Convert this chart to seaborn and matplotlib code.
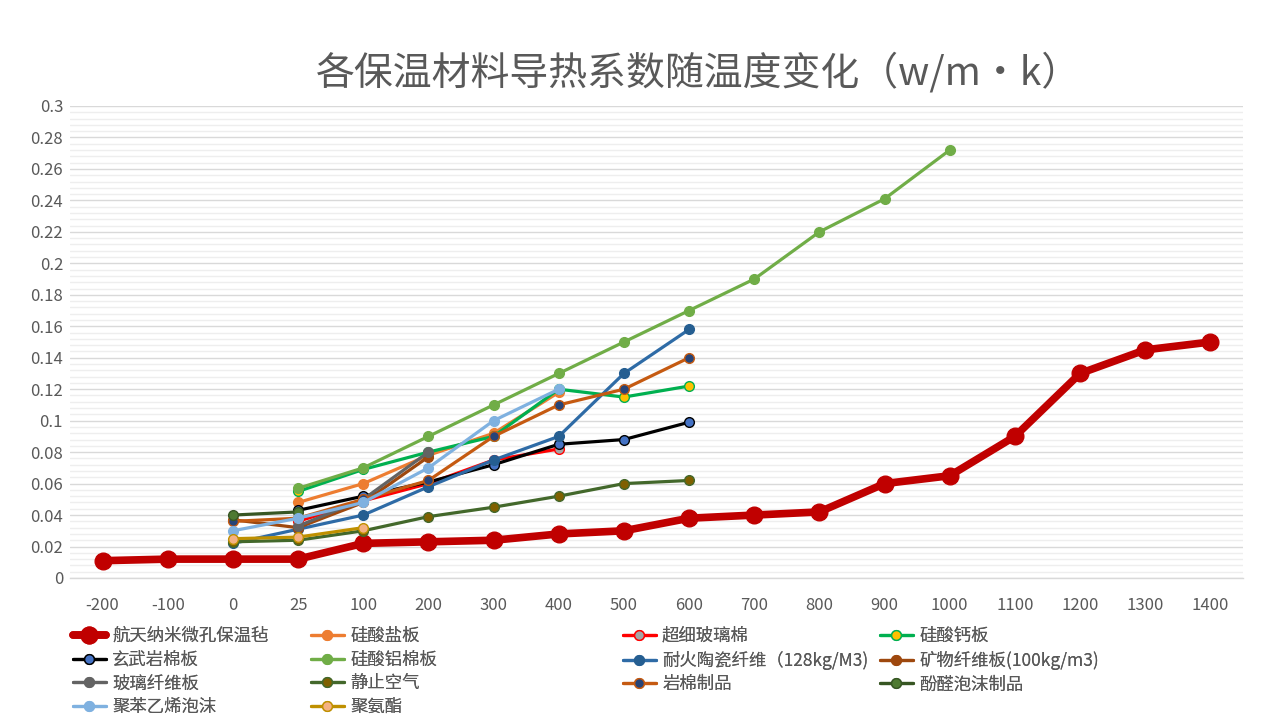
import matplotlib
matplotlib.use("Agg")
import matplotlib.pyplot as plt
from matplotlib.ticker import MultipleLocator
import seaborn as sns
import pandas as pd

# ---------------- data ----------------
temps = ["-200", "-100", "0", "25", "100", "200", "300", "400", "500", "600",
         "700", "800", "900", "1000", "1100", "1200", "1300", "1400"]
N = None
hangtian   = [0.011, 0.012, 0.012, 0.012, 0.022, 0.023, 0.024, 0.028, 0.030, 0.038,
              0.040, 0.042, 0.060, 0.065, 0.090, 0.130, 0.145, 0.150]
guisuanyan = [N, N, N, 0.048, 0.060, 0.078, 0.092, 0.118] + [N] * 10
chaoxi     = [N, N, N, 0.036, 0.049, 0.060, 0.075, 0.082] + [N] * 10
guisuangai = [N, N, N, 0.055, 0.069, 0.080, 0.090, 0.120, 0.115, 0.122] + [N] * 8
xuanwu     = [N, N, N, 0.043, 0.052, 0.061, 0.072, 0.085, 0.088, 0.099] + [N] * 8
guisuanlv  = [N, N, N, 0.057, 0.070, 0.090, 0.110, 0.130, 0.150, 0.170,
              0.190, 0.220, 0.241, 0.272] + [N] * 4
naihuo     = [N, N, 0.022, 0.031, 0.040, 0.058, 0.075, 0.090, 0.130, 0.158] + [N] * 8
kuangwu    = [N, N, 0.037, 0.032, 0.048, 0.077] + [N] * 12
boli       = [N, N, N, 0.033, 0.050, 0.080] + [N] * 12
jingzhi    = [N, N, 0.023, 0.024, 0.030, 0.039, 0.045, 0.052, 0.060, 0.062] + [N] * 8
yanmian    = [N, N, 0.036, 0.038, 0.050, 0.062, 0.090, 0.110, 0.120, 0.140] + [N] * 8
fenquan    = [N, N, 0.040, 0.042] + [N] * 14
jubenyixi  = [N, N, 0.030, 0.038, 0.048, 0.070, 0.100, 0.120] + [N] * 10
juanzhi    = [N, N, 0.025, 0.026, 0.032] + [N] * 13

names = ["航天纳米微孔保温毡", "硅酸盐板", "超细玻璃棉", "硅酸钙板",
         "玄武岩棉板", "硅酸铝棉板", "耐火陶瓷纤维（128kg/M3)", "矿物纤维板(100kg/m3)",
         "玻璃纤维板", "静止空气", "岩棉制品", "酚醛泡沫制品",
         "聚苯乙烯泡沫", "聚氨酯"]
values = [hangtian, guisuanyan, chaoxi, guisuangai, xuanwu, guisuanlv, naihuo,
          kuangwu, boli, jingzhi, yanmian, fenquan, jubenyixi, juanzhi]

# styles: (line color, marker face, marker edge, linewidth, markersize)
styles = [
    ("#C00000", "#C00000", "#C00000", 5.5, 12),
    ("#ED7D31", "#ED7D31", "#ED7D31", 2.3, 7),
    ("#FF0000", "#A5A5A5", "#FF0000", 2.3, 7),
    ("#00B050", "#FFC000", "#00B050", 2.3, 7),
    ("#000000", "#4472C4", "#000000", 2.3, 7),
    ("#70AD47", "#70AD47", "#70AD47", 2.3, 7),
    ("#2E6BA6", "#255E91", "#255E91", 2.3, 7),
    ("#9E480E", "#9E480E", "#9E480E", 2.3, 7),
    ("#636363", "#636363", "#636363", 2.3, 7),
    ("#43682B", "#7F6000", "#43682B", 2.3, 7),
    ("#C55A11", "#264478", "#C55A11", 2.3, 7),
    ("#375623", "#4E7A31", "#375623", 2.3, 7),
    ("#7FB1E0", "#7FB1E0", "#7FB1E0", 2.3, 7),
    ("#BF9000", "#F4B183", "#BF9000", 2.3, 7),
]

# ---------------- figure ----------------
sns.set_style("white")
plt.rcParams["font.family"] = ["Noto Sans CJK SC", "DejaVu Sans"]
TXT = "#595959"

fig = plt.figure(figsize=(12.68, 7.2), dpi=100)
ax = fig.add_axes([70 / 1268, 1 - 578 / 720, (1243 - 70) / 1268, (578 - 106) / 720])

pos = list(range(len(temps)))
handles = []
for i, (name, vals, st) in enumerate(zip(names, values, styles)):
    xs = [p for p, v in zip(pos, vals) if v is not None]
    ys = [v for v in vals if v is not None]
    df = pd.DataFrame({"x": xs, "y": ys})
    color, mfc, mec, lw, ms = st
    sns.lineplot(data=df, x="x", y="y", ax=ax, color=color, linewidth=lw,
                 marker="o", markersize=ms, markerfacecolor=mfc,
                 markeredgecolor=mec, markeredgewidth=1.0, label=name,
                 legend=False, zorder=10 - (0 if i else 8))
    handles.append(ax.lines[-1])

ax.set_xlim(-0.5, len(temps) - 0.5)
ax.set_ylim(0, 0.3)
ax.set_xticks(pos)
ax.set_xticklabels(temps)
ax.yaxis.set_major_locator(MultipleLocator(0.02))
ax.yaxis.set_minor_locator(MultipleLocator(0.004))
ax.set_yticks([round(0.02 * k, 2) for k in range(16)])
ax.set_yticklabels(["0" if k == 0 else f"{0.02 * k:.2f}".rstrip("0") for k in range(16)])
ax.grid(which="major", axis="y", color="#D9D9D9", linewidth=1.0, zorder=0)
ax.grid(which="minor", axis="y", color="#EEEEEE", linewidth=1.0, zorder=0)
ax.grid(which="major", axis="x", visible=False)
ax.set_axisbelow(True)
for s in ["top", "right", "left"]:
    ax.spines[s].set_visible(False)
ax.spines["bottom"].set_color("#D9D9D9")
ax.spines["bottom"].set_linewidth(1.0)
ax.tick_params(axis="both", which="both", length=0, colors=TXT, labelsize=12)
ax.tick_params(axis="x", pad=14)
ax.tick_params(axis="y", pad=5)
ax.set_xlabel("")
ax.set_ylabel("")

fig.text(698 / 1268, 1 - 73 / 720, "各保温材料导热系数随温度变化（w/m·k）",
         ha="center", va="center", fontsize=28, color=TXT, fontweight="light")

# legend: four equal-width columns like Excel
col_x = [73, 311, 623, 880]
for c in range(4):
    idx = list(range(c, len(names), 4))
    leg = fig.legend([handles[i] for i in idx], [names[i] for i in idx],
                     loc="upper left", bbox_to_anchor=(col_x[c] / 1268, 1 - 627 / 720),
                     frameon=False, fontsize=12.5, labelcolor=TXT,
                     handlelength=1.9, handletextpad=0.35, labelspacing=0.33,
                     borderpad=0, borderaxespad=0)
    fig.add_artist(leg)

fig.savefig("out.png", dpi=100)
